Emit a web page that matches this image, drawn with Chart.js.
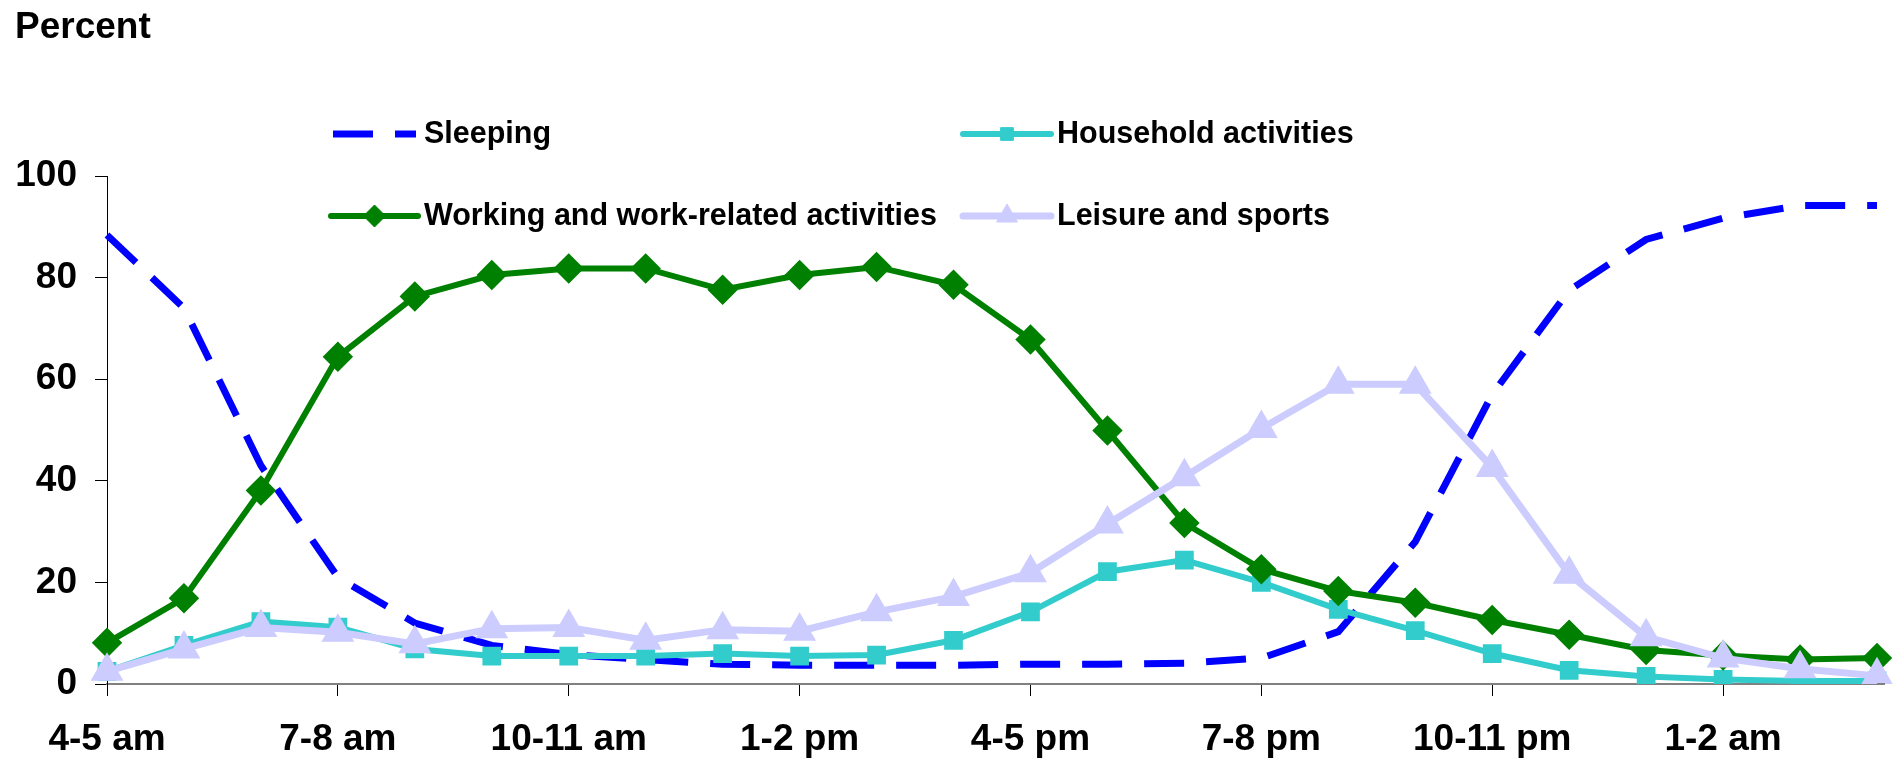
<!DOCTYPE html>
<html>
<head>
<meta charset="utf-8">
<script src="https://cdn.jsdelivr.net/npm/chart.js@4.4.1/dist/chart.umd.min.js"></script>
<style>
  html, body { margin: 0; padding: 0; background: #fff; }
  canvas { display: block; }
</style>
</head>
<body>
<canvas id="chart" width="1899" height="762"></canvas>
<script>
const categories = [
    '4-5 am', '5-6 am', '6-7 am', '7-8 am', '8-9 am', '9-10 am', '10-11 am', '11 am-12 pm',
    '12-1 pm', '1-2 pm', '2-3 pm', '3-4 pm', '4-5 pm', '5-6 pm', '6-7 pm', '7-8 pm',
    '8-9 pm', '9-10 pm', '10-11 pm', '11 pm-12 am', '12-1 am', '1-2 am', '2-3 am', '3-4 am'
];
const sleeping  = [88.4, 74, 43, 21, 12, 7.6, 5.8, 4.8, 3.9, 3.7, 3.7, 3.7, 3.9, 3.9, 4.1, 5.1, 10.3, 28, 57, 77.5, 87.5, 91.7, 94.2, 94.2];
const household = [2.5, 7.6, 12.3, 11.2, 6.9, 5.5, 5.5, 5.5, 6.0, 5.5, 5.7, 8.6, 14.2, 22.1, 24.4, 20.0, 14.7, 10.5, 6.0, 2.7, 1.5, 0.9, 0.6, 0.6];
const working   = [8.1, 16.9, 38.1, 64.4, 76.3, 80.5, 81.8, 81.8, 77.6, 80.5, 82.1, 78.6, 67.8, 49.9, 31.7, 22.6, 18.3, 16.0, 12.6, 9.7, 6.7, 5.6, 4.8, 5.1];
const leisure   = [2.5, 6.9, 11.1, 10.2, 7.9, 10.9, 11.1, 8.6, 10.7, 10.4, 14.2, 17.2, 21.9, 31.5, 40.8, 50.3, 59.0, 59.0, 42.6, 21.6, 9.3, 5.1, 3.0, 1.6];
const yMin = 0, yMax = 100, yStep = 20;
const labelEvery = 3;

const FONT = 'Arial, "Liberation Sans", sans-serif';

// legend laid out in 2 columns like the original
const legendSpots = [
    { ds: 0, x0: 333, x1: 416, y: 134, tx: 424 },
    { ds: 1, x0: 963, x1: 1051, y: 134, tx: 1057 },
    { ds: 2, x0: 331, x1: 418, y: 216, tx: 424 },
    { ds: 3, x0: 963, x1: 1051, y: 216, tx: 1057 }
];

const extras = {
    id: 'extras',
    afterDraw(chart) {
        const ctx = chart.ctx;
        ctx.save();
        ctx.fillStyle = '#000';
        ctx.font = 'bold 37px ' + FONT;
        ctx.textBaseline = 'alphabetic';
        ctx.textAlign = 'left';
        ctx.fillText('Percent', 15, 38);

        // x axis line runs a little past the last point
        const xs = chart.scales.x;
        ctx.strokeStyle = '#808080';
        ctx.lineWidth = 2;
        ctx.beginPath();
        ctx.moveTo(xs.right, xs.top);
        ctx.lineTo(xs.right + 8, xs.top);
        ctx.stroke();

        legendSpots.forEach(s => {
            const d = chart.data.datasets[s.ds];
            ctx.save();
            ctx.strokeStyle = d.borderColor;
            ctx.lineWidth = d.borderWidth;
            ctx.lineCap = d.borderDash ? 'butt' : 'round';
            ctx.setLineDash(d.borderDash || []);
            ctx.beginPath();
            ctx.moveTo(s.x0, s.y);
            ctx.lineTo(s.x1, s.y);
            ctx.stroke();
            ctx.restore();
            if (d.pointRadius > 0) {
                ctx.save();
                ctx.fillStyle = d.borderColor;
                ctx.strokeStyle = d.borderColor;
                ctx.lineWidth = 1;
                Chart.helpers.drawPoint(ctx, {
                    pointStyle: d.pointStyle, radius: d.pointRadius, rotation: 0, borderWidth: 1
                }, (s.x0 + s.x1) / 2, s.y);
                ctx.restore();
            }
            ctx.fillStyle = '#000';
            ctx.font = 'bold 30.5px ' + FONT;
            ctx.textBaseline = 'middle';
            ctx.fillText(d.label, s.tx, s.y + 1);
        });
        ctx.restore();
    }
};

new Chart(document.getElementById('chart'), {
    type: 'line',
    data: {
        labels: categories,
        datasets: [
            {
                label: 'Sleeping', data: sleeping, order: 4,
                borderColor: '#0000FF', borderWidth: 7, borderDash: [40, 22],
                pointRadius: 0, tension: 0
            },
            {
                label: 'Household activities', data: household, order: 3,
                borderColor: '#33CCCC', backgroundColor: '#33CCCC', borderWidth: 6,
                pointStyle: 'rect', pointRadius: 9, pointBackgroundColor: '#33CCCC', pointBorderColor: '#33CCCC', tension: 0
            },
            {
                label: 'Working and work-related activities', data: working, order: 2,
                borderColor: '#008000', backgroundColor: '#008000', borderWidth: 6,
                pointStyle: 'rectRot', pointRadius: 11, pointBackgroundColor: '#008000', pointBorderColor: '#008000', tension: 0
            },
            {
                label: 'Leisure and sports', data: leisure, order: 1,
                borderColor: '#CCCCFF', backgroundColor: '#CCCCFF', borderWidth: 7,
                pointStyle: 'triangle', pointRadius: 12, pointBackgroundColor: '#CCCCFF', pointBorderColor: '#CCCCFF', tension: 0
            }
        ]
    },
    options: {
        responsive: false,
        animation: false,
        devicePixelRatio: 1,
        layout: { padding: { top: 176, right: 17, bottom: 0, left: 0 } },
        plugins: {
            legend: { display: false },
            tooltip: { enabled: false },
            title: { display: false }
        },
        scales: {
            x: {
                offset: false,
                afterFit: s => { s.height = 78; },
                border: { display: true, color: '#808080', width: 2 },
                grid: {
                    drawOnChartArea: false, drawTicks: true, tickLength: 12, tickWidth: 1,
                    tickColor: c => c.index % labelEvery === 0 ? '#000' : 'rgba(0,0,0,0)'
                },
                ticks: {
                    autoSkip: false, maxRotation: 0, padding: 22, color: '#000',
                    font: { family: FONT, size: 37, weight: 'bold' },
                    callback: (v, i) => i % labelEvery === 0 ? categories[i] : ''
                }
            },
            y: {
                min: yMin, max: yMax,
                afterFit: s => { s.width = 107; },
                border: { display: true, color: '#000', width: 1 },
                grid: { drawOnChartArea: false, drawTicks: true, tickLength: 12, tickColor: '#000' },
                ticks: {
                    stepSize: yStep, padding: 18, color: '#000',
                    font: { family: FONT, size: 37, weight: 'bold' }
                }
            }
        }
    },
    plugins: [extras]
});
</script>
</body>
</html>
